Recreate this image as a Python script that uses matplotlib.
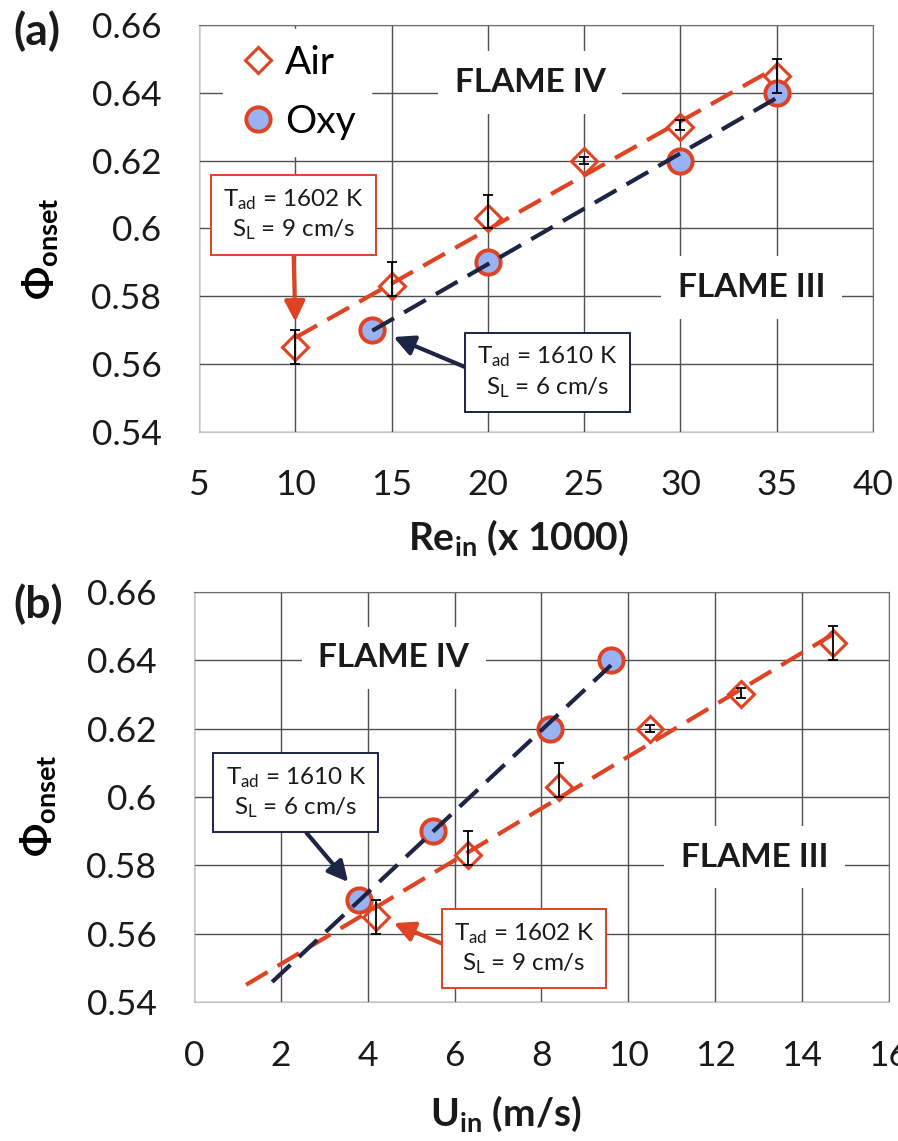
import numpy as np
import matplotlib
matplotlib.use('Agg')
import matplotlib.pyplot as plt
from matplotlib.lines import Line2D

plt.rcParams['font.family'] = ['Lato', 'DejaVu Sans']
plt.rcParams['mathtext.fontset'] = 'custom'
plt.rcParams['mathtext.rm'] = 'Lato'
plt.rcParams['mathtext.it'] = 'Lato:italic'
plt.rcParams['mathtext.bf'] = 'Lato:bold'

RED = '#DE4323'
NAVY = '#1D2444'
BLUE = '#98B2F4'
GRID = '#4f4f4f'

# panel (a): onset equivalence ratio vs inlet Reynolds number
re_air = [10, 15, 20, 25, 30, 35]
re_oxy = [14, 20, 30, 35]
# panel (b): same points vs inlet velocity
u_air = [4.2, 6.3, 8.4, 10.5, 12.6, 14.7]
u_oxy = [3.8, 5.5, 8.2, 9.6]

phi_air = [0.565, 0.583, 0.603, 0.620, 0.630, 0.645]
phi_oxy = [0.570, 0.590, 0.620, 0.640]
err_air_lo = [0.005, 0.003, 0.003, 0.001, 0.001, 0.005]
err_air_hi = [0.005, 0.007, 0.007, 0.001, 0.002, 0.005]

# trend lines in (b) are extended backwards
u_fit_start_air = 1.2
u_fit_start_oxy = 1.8

re_ticks = [5, 10, 15, 20, 25, 30, 35, 40]
u_ticks = [0, 2, 4, 6, 8, 10, 12, 14, 16]
phi_ticks = [0.54, 0.56, 0.58, 0.6, 0.62, 0.64, 0.66]
phi_ticklabels = ['0.54', '0.56', '0.58', '0.6', '0.62', '0.64', '0.66']


def trend(ax, x, y, x0, color):
    k, b = np.polyfit(x, y, 1)
    xs = np.array([x0, max(x)])
    ax.plot(xs, k * xs + b, color=color, lw=3.0, dashes=(6.0, 2.8), zorder=4)


def draw_points(ax, x_air, x_oxy):
    ax.plot(x_air, phi_air, ls='none', marker='D', ms=13, mfc='none', mec=RED, mew=2.2, zorder=3)
    ax.plot(x_oxy, phi_oxy, ls='none', marker='o', ms=17.5, mfc=BLUE, mec=RED, mew=2.8, zorder=3)
    ax.errorbar(x_air, phi_air, yerr=[err_air_lo, err_air_hi], fmt='none', ecolor='black',
                elinewidth=1.3, capsize=3.5, capthick=1.3, zorder=5)


def style(ax, xticks, xlim):
    ax.set_xlim(xlim)
    ax.set_ylim(0.54, 0.66)
    ax.set_xticks(xticks)
    ax.set_yticks(phi_ticks)
    ax.set_yticklabels(phi_ticklabels)
    ax.tick_params(length=0, labelsize=25.5, pad=27, colors='#1a1a1a')
    ax.grid(True, color=GRID, lw=1.0)
    ax.set_axisbelow(True)
    for side in ['top', 'right']:
        ax.spines[side].set_color('#6f6f6f')
    for side in ['bottom', 'left']:
        ax.spines[side].set_color('#c4c4c4')


def region(ax, text, x, y):
    ax.text(x, y, text, ha='center', va='center', fontsize=24, fontweight='bold', color='#1a1a1a',
            bbox=dict(boxstyle='square,pad=0.5', fc='white', ec='none'), zorder=2)


def note(ax, text, xy, xytext, color, relpos):
    ax.annotate(text, xy=xy, xytext=xytext, ha='center', va='center', fontsize=17.5,
                linespacing=1.3, color='#1a1a1a',
                bbox=dict(boxstyle='square,pad=0.5', fc='white', ec=color, lw=1.4),
                arrowprops=dict(arrowstyle='-|>,head_length=0.7,head_width=0.35', color=color,
                                lw=3.0, relpos=relpos, shrinkA=0, shrinkB=0),
                zorder=6)


txt_1602 = 'T$_{\\rm ad}$ = 1602 K\nS$_{\\rm L}$ = 9 cm/s'
txt_1610 = 'T$_{\\rm ad}$ = 1610 K\nS$_{\\rm L}$ = 6 cm/s'

fig = plt.figure(figsize=(8.98, 11.41), dpi=100)
ax1 = fig.add_axes([0.2216, 0.6214, 0.7506, 0.3567])
ax2 = fig.add_axes([0.2160, 0.1218, 0.7740, 0.3594])

# (a)
style(ax1, re_ticks, (5, 40))
draw_points(ax1, re_air, re_oxy)
trend(ax1, re_air, phi_air, min(re_air), RED)
trend(ax1, re_oxy, phi_oxy, min(re_oxy), NAVY)
region(ax1, 'FLAME IV', 22.2, 0.643)
region(ax1, 'FLAME III', 33.7, 0.5826)
note(ax1, txt_1602, (10, 0.5725), (9.9, 0.604), RED, (0.5, 0.0))
note(ax1, txt_1610, (15.1, 0.568), (23.1, 0.5576), NAVY, (0.0, 0.5))

handles = [Line2D([], [], ls='none', marker='D', ms=13, mfc='none', mec=RED, mew=2.2),
           Line2D([], [], ls='none', marker='o', ms=17.5, mfc=BLUE, mec=RED, mew=2.8)]
leg = ax1.legend(handles, ['Air', 'Oxy'], loc='upper left', bbox_to_anchor=(0.035, 0.99),
                 borderaxespad=0, fontsize=28, handlelength=1.0, handletextpad=0.2,
                 labelspacing=0.6, frameon=True, fancybox=False, framealpha=1,
                 edgecolor='white')
leg.set_zorder(2)

# (b)
style(ax2, u_ticks, (0, 16))
draw_points(ax2, u_air, u_oxy)
trend(ax2, u_air, phi_air, u_fit_start_air, RED)
trend(ax2, u_oxy, phi_oxy, u_fit_start_oxy, NAVY)
region(ax2, 'FLAME IV', 4.6, 0.6407)
region(ax2, 'FLAME III', 12.9, 0.5824)
note(ax2, txt_1610, (3.55, 0.5751), (2.34, 0.6013), NAVY, (0.5, 0.0))
note(ax2, txt_1602, (4.6, 0.5631), (7.6, 0.5556), RED, (0.0, 0.5))

# axis titles and panel letters
ylab = '$\\mathbf{\\Phi_{onset}}$'
fig.text(40 / 898, 1 - 249 / 1141, ylab, rotation=90, ha='center', va='center', fontsize=28)
fig.text(38 / 898, 1 - 806 / 1141, ylab, rotation=90, ha='center', va='center', fontsize=28)
fig.text(518 / 898, 1 - 550 / 1141, '$\\mathbf{Re_{in}}$ (x 1000)', ha='center', va='baseline',
         fontsize=28, fontweight='bold', color='#1a1a1a')
fig.text(506 / 898, 1 - 1126 / 1141, '$\\mathbf{U_{in}}$ (m/s)', ha='center', va='baseline',
         fontsize=28, fontweight='bold', color='#1a1a1a')
fig.text(13 / 898, 1 - 45 / 1141, '(a)', ha='left', va='baseline', fontsize=32, fontweight='bold',
         color='#1a1a1a')
fig.text(13 / 898, 1 - 618 / 1141, '(b)', ha='left', va='baseline', fontsize=32, fontweight='bold',
         color='#1a1a1a')

fig.savefig('out.png', dpi=100)
